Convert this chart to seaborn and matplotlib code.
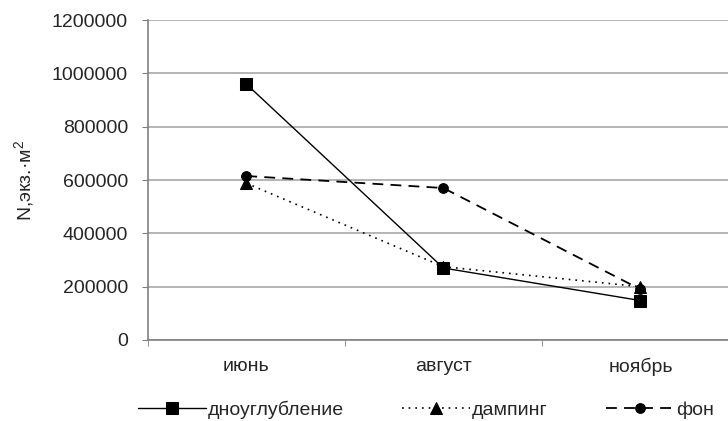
import matplotlib
matplotlib.use('Agg')
import matplotlib.pyplot as plt
import seaborn as sns
from matplotlib.ticker import FixedLocator

months = ['июнь', 'август', 'ноябрь']
dredging = [960000, 270000, 148000]
dumping = [588000, 275000, 200000]
background = [615000, 570000, 190000]
y_ticks = [0, 200000, 400000, 600000, 800000, 1000000, 1200000]

sns.set_style('white')
plt.rcParams['font.family'] = ['Liberation Sans', 'DejaVu Sans']
plt.rcParams['font.size'] = 14
plt.rcParams['mathtext.fontset'] = 'custom'
plt.rcParams['mathtext.rm'] = 'Liberation Sans'

fig = plt.figure(figsize=(7.28, 4.21), dpi=100)
ax = fig.add_axes([0.203, 0.1924, 0.812, 0.760])

sns.lineplot(x=months, y=dredging, ax=ax, color='black', lw=1, ls='-',
             marker='s', markersize=8, markeredgecolor='black', label='дноуглубление')
sns.lineplot(x=months, y=dumping, ax=ax, color='black', lw=1.2, ls=(0, (1, 3)),
             marker='^', markersize=8, markeredgecolor='black', label='дампинг')
sns.lineplot(x=months, y=background, ax=ax, color='black', lw=1.3, ls=(0, (6, 4)),
             marker='o', markersize=7, markeredgecolor='black', label='фон')

ax.set_xlim(-0.5, 2.5)
ax.set_ylim(0, 1200000)
ax.set_yticks(y_ticks)
ax.set_yticklabels([str(v) for v in y_ticks])
ax.yaxis.grid(True, color='#a8a8a8', lw=1.2)
ax.set_axisbelow(True)
ax.xaxis.set_minor_locator(FixedLocator([-0.5, 0.5, 1.5, 2.5]))
ax.tick_params(axis='x', which='major', length=0, pad=13, labelsize=14)
ax.tick_params(axis='x', which='minor', length=4, color='#808080', direction='out', bottom=True)
ax.tick_params(axis='y', length=4.3, color='#808080', direction='out', left=True, pad=10, labelsize=14)

for s in ['top', 'right']:
    ax.spines[s].set_visible(False)
for s in ['left', 'bottom']:
    ax.spines[s].set_color('#808080')
    ax.spines[s].set_linewidth(1.2)

ax.set_xlabel('')
ax.set_ylabel('N,экз.·м$^2$', fontsize=14)
ax.yaxis.set_label_coords(-0.187, 0.5)

# legend under the axes, all three entries in one row
ax.legend(loc='center left', bbox_to_anchor=(-0.047, -0.219), ncol=3, frameon=False,
          handlelength=3.5, columnspacing=3.0, handletextpad=0.1, fontsize=14)

fig.savefig('out.png', dpi=100)
